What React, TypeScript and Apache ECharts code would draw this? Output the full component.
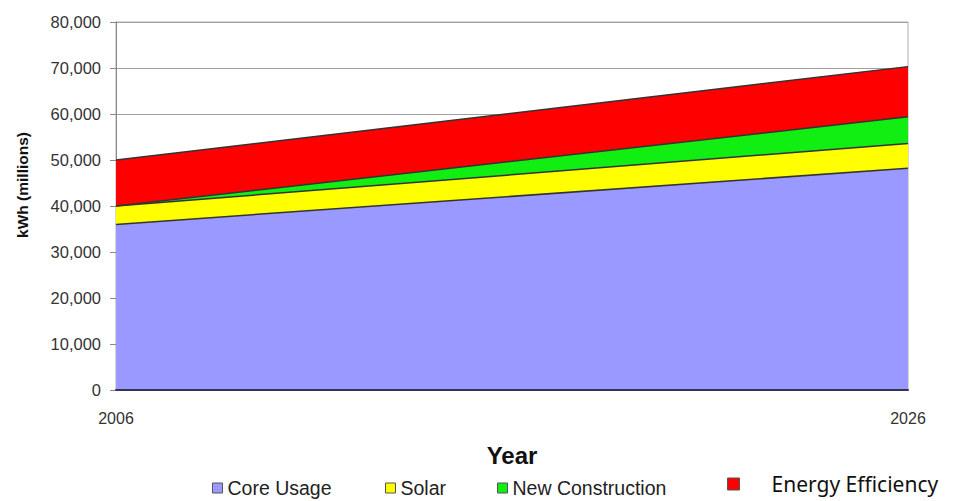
import React, { useEffect, useRef } from "react";
import * as echarts from "echarts";

const years = ["2006", "2026"];
const coreUsage = [36000, 48200];
const solar = [4000, 5400];
const newConstruction = [0, 5800];
const energyEfficiency = [10000, 10900];
const seriesNames = ["Core Usage", "Solar", "New Construction", "Energy Efficiency"];
const seriesColors = ["#9999ff", "#ffff00", "#11ee11", "#ff0000"];
const yTicks = [0, 10000, 20000, 30000, 40000, 50000, 60000, 70000, 80000];

export default function App() {
  const ref = useRef<HTMLDivElement>(null);
  useEffect(() => {
    if (!ref.current) return;
    const chart = echarts.init(ref.current, undefined, { renderer: "svg" });
    const values = [coreUsage, solar, newConstruction, energyEfficiency];
    const legendLeft = [212, 385, 497, 727];
    const legends: any[] = seriesNames.map((name, i) => {
      const isLast = i === 3;
      return {
        data: [
          {
            name,
            icon: "rect",
            itemStyle: { color: seriesColors[i], borderColor: "#555", borderWidth: 1 },
          },
        ],
        left: legendLeft[i],
        top: isLast ? 471 : 478,
        itemWidth: isLast ? 12 : 10,
        itemHeight: isLast ? 12 : 10,
        selectedMode: false,
        padding: 0,
        textStyle: isLast
          ? { fontFamily: "Noto Sans", fontSize: 21, color: "#111", lineHeight: 26, padding: [0, 0, 0, 27] }
          : { fontFamily: "Liberation Sans", fontSize: 19.5, color: "#222", lineHeight: 20 },
      };
    });
    chart.setOption({
      animation: false,
      backgroundColor: "#ffffff",
      grid: {
        left: 116,
        right: 48,
        top: 22,
        bottom: 111,
        show: true,
        borderColor: "#b0b0b0",
        borderWidth: 1,
        backgroundColor: "transparent",
      },
      legend: legends,
      graphic: [
        {
          type: "text",
          x: 22,
          y: 185,
          rotation: Math.PI / 2,
          style: {
            text: "kWh (millions)",
            font: "bold 15.5px 'Liberation Sans'",
            fill: "#111",
            align: "center",
            verticalAlign: "middle",
          },
        },
      ],
      xAxis: {
        type: "category",
        data: years,
        boundaryGap: false,
        name: "Year",
        nameLocation: "middle",
        nameGap: 53,
        nameTextStyle: {
          fontFamily: "Liberation Sans",
          fontWeight: "bold",
          fontSize: 24,
          color: "#111",
          verticalAlign: "top",
        },
        axisLine: { show: true, lineStyle: { color: "#333355", width: 2 } },
        axisTick: { show: false },
        axisLabel: {
          fontFamily: "Liberation Sans",
          fontSize: 16,
          color: "#333",
          margin: 20,
        },
        splitLine: { show: false },
        z: 10,
      },
      yAxis: {
        type: "value",
        min: 0,
        max: 80000,
        interval: 10000,
        axisLine: { show: true, lineStyle: { color: "#888", width: 1 } },
        axisTick: { show: true, length: 6, lineStyle: { color: "#888" } },
        axisLabel: {
          fontFamily: "Liberation Sans",
          fontSize: 16.5,
          color: "#333",
          margin: 15,
          formatter: (v: number) => (yTicks.includes(v) ? v.toLocaleString("en-US") : ""),
        },
        splitLine: { show: true, lineStyle: { color: "#a0a0a0", width: 1 } },
      },
      series: seriesNames.map((name, i) => ({
        name,
        type: "line",
        stack: "total",
        data: values[i],
        symbol: "none",
        lineStyle: { color: "#333", width: 1.5 },
        itemStyle: { color: seriesColors[i] },
        areaStyle: { color: seriesColors[i], opacity: 1 },
        z: 2,
      })),
    });
    return () => chart.dispose();
  }, []);
  return <div ref={ref} style={{ width: 956, height: 501, position: "absolute", left: 0, top: 0 }} />;
}
